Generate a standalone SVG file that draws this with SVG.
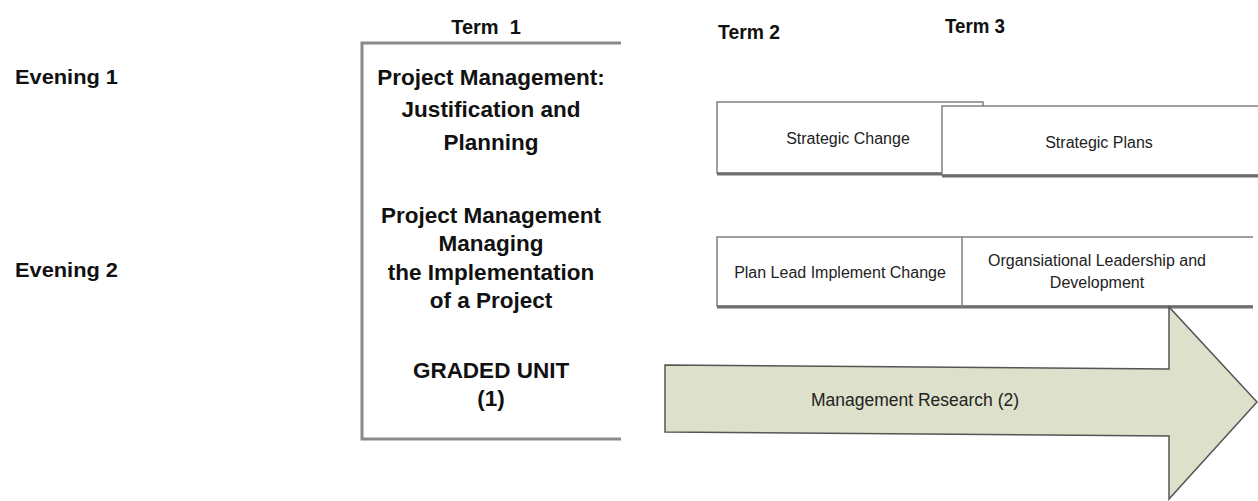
<svg xmlns="http://www.w3.org/2000/svg" width="1258" height="501" viewBox="0 0 1258 501">
  <style>
    .hdr { font-family: "Liberation Sans", Arial, sans-serif; font-weight: bold; font-size: 20px; fill: #111; }
    .t1 { font-family: "Liberation Sans", Arial, sans-serif; font-weight: bold; font-size: 22.5px; fill: #111; text-anchor: middle; }
    .sm { font-family: "Liberation Sans", Arial, sans-serif; font-size: 16px; fill: #222; text-anchor: middle; }
    .arrowtxt { font-family: "Liberation Sans", Arial, sans-serif; font-size: 17.5px; fill: #222; text-anchor: middle; }
    .box { fill: #fff; stroke: #808080; stroke-width: 1.5; }
    .shadow { stroke: #6e6e6e; stroke-width: 3; fill: none; }
  </style>

  <!-- column headings -->
  <g id="headings">
    <text class="hdr" x="486" y="34" text-anchor="middle" font-size="22" xml:space="preserve" style="white-space:pre">Term  1</text>
    <text class="hdr" x="749" y="39" text-anchor="middle" textLength="62" lengthAdjust="spacingAndGlyphs">Term 2</text>
    <text class="hdr" x="975" y="33" text-anchor="middle" textLength="60" lengthAdjust="spacingAndGlyphs">Term 3</text>
  </g>

  <!-- row headings -->
  <g id="rows">
    <text class="hdr" x="15" y="84" font-size="21" textLength="103" lengthAdjust="spacingAndGlyphs">Evening 1</text>
    <text class="hdr" x="15" y="277" font-size="21" textLength="103" lengthAdjust="spacingAndGlyphs">Evening 2</text>
  </g>

  <!-- Term 1 bracket with its units -->
  <g id="term1">
    <path d="M621 43 H362 V439 H621" fill="none" stroke="#8a8a8a" stroke-width="3"/>
    <text class="t1" x="491" y="85">Project Management:</text>
    <text class="t1" x="491" y="117">Justification and</text>
    <text class="t1" x="491" y="150">Planning</text>
    <text class="t1" x="491" y="223">Project Management</text>
    <text class="t1" x="491" y="251">Managing</text>
    <text class="t1" x="491" y="280">the Implementation</text>
    <text class="t1" x="491" y="308">of a Project</text>
    <text class="t1" x="491" y="378">GRADED UNIT</text>
    <text class="t1" x="491" y="406">(1)</text>
  </g>

  <!-- Evening 1 units -->
  <g id="strategic-change">
    <rect class="box" x="717" y="102" width="266" height="71"/>
    <line class="shadow" x1="717" y1="174" x2="942" y2="174"/>
    <text class="sm" x="848" y="144">Strategic Change</text>
  </g>
  <g id="strategic-plans">
    <rect class="box" x="942" y="106" width="320" height="69"/>
    <line class="shadow" x1="942" y1="176" x2="1258" y2="176"/>
    <text class="sm" x="1099" y="148">Strategic Plans</text>
  </g>

  <!-- Evening 2 units -->
  <g id="plan-lead">
    <path d="M962 237 H717 V306 H962" fill="#fff" stroke="#808080" stroke-width="1.5"/>
    <line class="shadow" x1="717" y1="307" x2="962" y2="307"/>
    <text class="sm" x="840" y="278">Plan Lead Implement Change</text>
  </g>
  <g id="org-leadership">
    <path d="M962 237 H1253 M962 237 V306 H1253" fill="none" stroke="#808080" stroke-width="1.5"/>
    <line class="shadow" x1="962" y1="307" x2="1253" y2="307"/>
    <text class="sm" x="1097" y="266">Organsiational Leadership and</text>
    <text class="sm" x="1097" y="288">Development</text>
  </g>

  <!-- research arrow spanning Terms 2 and 3 -->
  <g id="management-research">
    <path d="M665 365 L1169 369 L1169 307 L1257 402 L1169 499 L1169 436 L665 432 Z" fill="#dde0ca" stroke="#555" stroke-width="1.5" stroke-linejoin="miter"/>
    <text class="arrowtxt" x="915" y="406">Management Research (2)</text>
  </g>

  <g id="connectors"/>
</svg>
